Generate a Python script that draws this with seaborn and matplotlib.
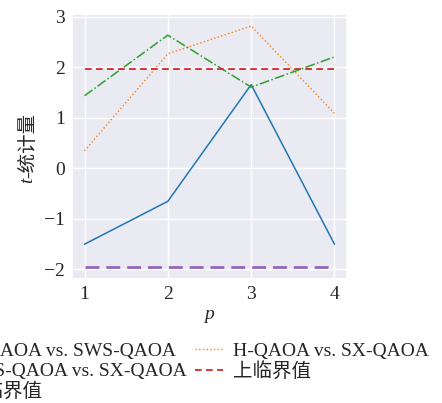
import numpy as np
import pandas as pd
import matplotlib
matplotlib.use("Agg")
import matplotlib.pyplot as plt
import seaborn as sns

# data
p = [1, 2, 3, 4]
h_vs_sws = [-1.50, -0.65, 1.66, -1.50]
h_vs_sx = [0.35, 2.27, 2.82, 1.09]
sws_vs_sx = [1.44, 2.64, 1.61, 2.21]
upper_crit = [1.97, 1.97, 1.97, 1.97]
lower_crit = [-1.95, -1.95, -1.95, -1.95]

labels = [
    "H-QAOA vs. SWS-QAOA",
    "H-QAOA vs. SX-QAOA",
    "SWS-QAOA vs. SX-QAOA",
    "上临界值",
    "下临界值",
]

sns.set_theme(style="darkgrid")
plt.rcParams["font.family"] = ["Liberation Serif", "Noto Sans CJK SC"]
plt.rcParams["axes.unicode_minus"] = True

W, H = 442, 403
fig = plt.figure(figsize=(W / 100, H / 100), dpi=100)
ax = fig.add_axes([72 / W, 1 - 279 / H, 275 / W, 265 / H])

series = [
    (h_vs_sws, "#1f77b4", "-", 1.1),
    (h_vs_sx, "#ff7f0e", ":", 1.0),
    (sws_vs_sx, "#2ca02c", "-.", 1.1),
    (upper_crit, "#d62728", (0, (3.7, 2.4)), 1.3),
    (lower_crit, "#9467bd", (0, (5, 2.5)), 2.0),
]

for (vals, color, ls, lw), lab in zip(series, labels):
    df = pd.DataFrame({"p": p, "t": vals})
    sns.lineplot(
        data=df,
        x="p",
        y="t",
        ax=ax,
        color=color,
        linestyle=ls,
        linewidth=lw,
        label=lab
    )

ax.set_xticks(p)
ax.set_yticks([-2, -1, 0, 1, 2, 3])
ax.tick_params(labelsize=14, length=0, pad=5)
ax.set_xlabel("p", fontsize=14, fontstyle="italic", labelpad=2)
ax.set_ylabel("")

# y label: italic "t" followed by "-统计量", rotated
y0 = 1 - 178 / H
fig.text(28 / W, y0, "t", rotation=90, fontsize=14, fontstyle="italic",
         ha="center", va="top")
fig.text(28 / W, y0, "-统计量", rotation=90, fontsize=14,
         ha="center", va="bottom")

handles, labs = ax.get_legend_handles_labels()
order = [0, 2, 4, 1, 3]
ax.legend(
    [handles[i] for i in order],
    [labs[i] for i in order],
    ncol=2,
    loc="upper left",
    bbox_to_anchor=(-73 / W, 1 - 342 / H),
    bbox_transform=fig.transFigure,
    frameon=False,
    fontsize=14,
    borderpad=0,
    borderaxespad=0,
    handlelength=1.4,
    handletextpad=0.55,
    columnspacing=0.45,
    labelspacing=0.12
)

plt.savefig("out.png", dpi=100)
